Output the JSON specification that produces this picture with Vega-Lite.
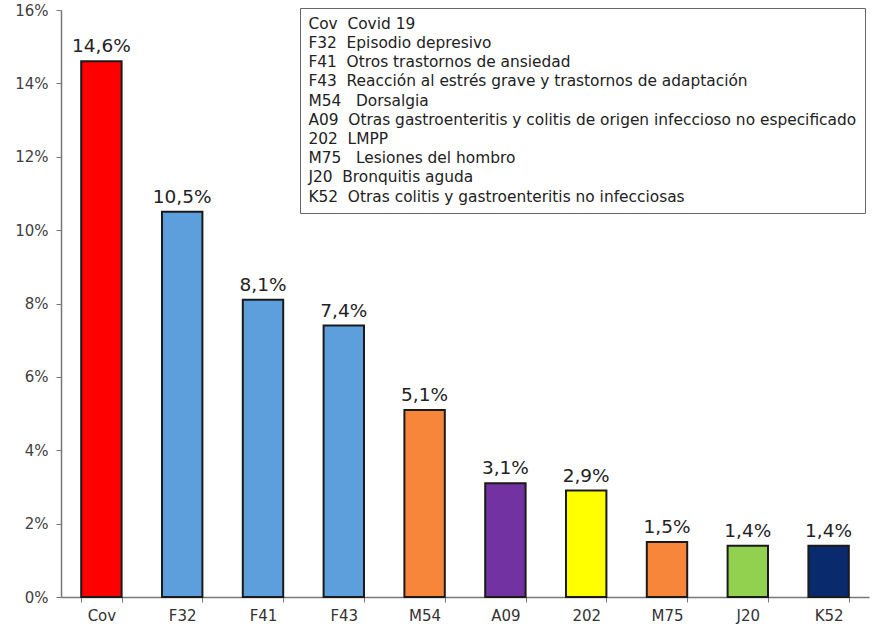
{
  "$schema": "https://vega.github.io/schema/vega-lite/v6.json",
  "width": 808,
  "height": 587,
  "autosize": {"type": "none"},
  "padding": {"left": 61, "top": 10, "right": 3, "bottom": 29},
  "background": "white",
  "config": {
    "view": {"stroke": null},
    "font": "DejaVu Sans",
    "locale": {"number": {"decimal": ",", "thousands": ".", "grouping": [3], "currency": ["", " €"]}}
  },
  "data": {
    "values": [
      {"code": "Cov", "label": "Cov\u00a0\u00a0Covid 19", "value": 0.146},
      {"code": "F32", "label": "F32\u00a0\u00a0Episodio depresivo", "value": 0.105},
      {"code": "F41", "label": "F41\u00a0\u00a0Otros trastornos de ansiedad", "value": 0.081},
      {"code": "F43", "label": "F43\u00a0\u00a0Reacción al estrés grave y trastornos de adaptación", "value": 0.074},
      {"code": "M54", "label": "M54\u00a0\u00a0\u00a0Dorsalgia", "value": 0.051},
      {"code": "A09", "label": "A09\u00a0\u00a0Otras gastroenteritis y colitis de origen infeccioso no especificado", "value": 0.031},
      {"code": "202", "label": "202\u00a0\u00a0LMPP", "value": 0.029},
      {"code": "M75", "label": "M75\u00a0\u00a0\u00a0Lesiones del hombro", "value": 0.015},
      {"code": "J20", "label": "J20\u00a0\u00a0Bronquitis aguda", "value": 0.014},
      {"code": "K52", "label": "K52\u00a0\u00a0Otras colitis y gastroenteritis no infecciosas", "value": 0.014}
    ]
  },
  "encoding": {
    "x": {
      "field": "code", "type": "nominal", "sort": null, "title": null,
      "scale": {"paddingInner": 0.5, "paddingOuter": 0.25},
      "axis": {
        "labelAngle": 0, "labelFontSize": 15, "labelColor": "#333", "labelPadding": 6,
        "tickBand": "extent", "tickSize": 5, "tickColor": "#777", "domainColor": "#777",
        "domainWidth": 1.5, "grid": false
      }
    },
    "y": {
      "field": "value", "type": "quantitative", "title": null,
      "scale": {"domain": [0, 0.16], "nice": false},
      "axis": {
        "values": [0, 0.02, 0.04, 0.06, 0.08, 0.1, 0.12, 0.14, 0.16],
        "format": ".0%", "labelFontSize": 15, "labelColor": "#404040", "labelPadding": 8,
        "tickSize": 5, "tickColor": "#777", "domainColor": "#777", "domainWidth": 1.5, "grid": false
      }
    }
  },
  "layer": [
    {
      "mark": {"type": "bar", "stroke": "#1a1a1a", "strokeWidth": 2},
      "encoding": {
        "color": {
          "field": "label", "type": "nominal", "sort": null,
          "scale": {"range": ["#ff0000", "#5d9fdc", "#5d9fdc", "#5d9fdc", "#f7863a", "#7232a2", "#ffff00", "#f7863a", "#92d050", "#0a2a6e"]},
          "legend": {
            "title": null, "orient": "none", "legendX": 239, "legendY": -2,
            "symbolSize": 1, "symbolStrokeWidth": 0, "symbolOpacity": 0, "labelOffset": -15,
            "labelFontSize": 15.4, "labelColor": "#222", "rowPadding": 2.2,
            "padding": 8, "strokeColor": "#666", "fillColor": "white", "labelLimit": 700
          }
        }
      }
    },
    {
      "mark": {"type": "text", "dy": -5, "baseline": "bottom", "fontSize": 18.5, "color": "#222"},
      "encoding": {
        "text": {"field": "value", "type": "quantitative", "format": ".1%"}
      }
    }
  ]
}
